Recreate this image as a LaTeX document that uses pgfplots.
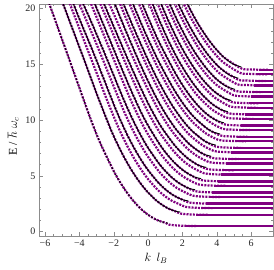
\documentclass[border=0pt]{standalone}
\usepackage{fontspec}
\setmainfont{Liberation Serif}
\usepackage{pgfplots}
\pgfplotsset{compat=1.18}
\definecolor{mpurple}{rgb}{0.5,0,0.5}
\definecolor{framegray}{gray}{0.55}
\pgfplotsset{
 pur/.style={mpurple, line width=2.2pt, dash pattern=on 2pt off 1.2pt, smooth, tension=0.5, no marks},
 plat/.style={mpurple, line width=2.4pt, no marks},
 blk/.style={black, line width=0.9pt, smooth, tension=0.5, no marks},
}
\begin{document}
\begin{tikzpicture}
\begin{axis}[
 scale only axis, width=234pt, height=232pt,
 xmin=-6.35, xmax=7.27, ymin=-0.4, ymax=20.4,
 xtick={-6,-4,-2,0,2,4,6}, xticklabels={−6,−4,−2,0,2,4,6},
 ytick={0,5,10,15,20}, yticklabels={0,5,10,15,20},
 minor x tick num=3, minor y tick num=4,
 tick align=inside, major tick length=4pt, minor tick length=2.2pt,
 axis line style={framegray}, tick style={framegray, line width=0.4pt},
 tick label style={font=\fontsize{10}{10}\selectfont, text=black!85},
 xlabel={$k\;\, l_B$}, ylabel={E / $\hbar\;\omega_c$},
 label style={font=\fontsize{12}{12}\selectfont},
 every axis y label/.append style={at={(ticklabel cs:0.43)}},
]
% ---------- purple, family A ----------
\addplot[pur] coordinates {(-6.400,23.20) (-5.750,20.42) (-5.100,17.63) (-4.400,14.62) (-3.420,10.40) (-2.795,7.973) (-1.948,5.268) (-1.385,3.836) (-0.975,2.972) (-0.658,2.405) (-0.401,2.008) (-0.185,1.718) (0,1.5) (0.309,1.197) (0.566,1.003) (0.793,0.875) (1.006,0.791) (1.225,0.62) (1.725,0.54) (2.225,0.51) (2.825,0.5)};
\addplot[pur] coordinates {(-5.400,22.27) (-4.600,18.99) (-3.599,14.89) (-2.976,12.29) (-2.115,8.951) (-1.490,6.935) (-1.005,5.611) (-0.613,4.685) (-0.283,4.010) (0,3.5) (0.472,2.793) (0.865,2.341) (1.212,2.041) (1.537,1.846) (1.871,1.62) (2.371,1.54) (2.871,1.51) (3.471,1.5)};
\addplot[pur] coordinates {(-5.100,23.40) (-4.065,19.32) (-3.259,16.33) (-2.679,14.07) (-1.867,10.90) (-1.260,8.817) (-0.768,7.362) (-0.355,6.301) (0,5.5) (0.592,4.390) (1.085,3.678) (1.519,3.207) (1.927,2.901) (2.345,2.62) (2.845,2.54) (3.345,2.51) (3.945,2.5)};
\addplot[pur] coordinates {(-4.329,22.27) (-3.418,19.18) (-2.750,16.78) (-2.232,14.86) (-1.472,12.02) (-0.897,10.04) (-0.414,8.592) (0,7.5) (0.691,5.986) (1.266,5.016) (1.774,4.373) (2.250,3.956) (2.738,3.62) (3.238,3.54) (3.738,3.51) (4.338,3.5)};
\addplot[pur] coordinates {(-3.335,21.26) (-2.672,18.82) (-2.142,16.86) (-1.705,15.23) (-1.011,12.72) (-0.466,10.88) (0,9.5) (0.778,7.582) (1.425,6.353) (1.996,5.539) (2.532,5.011) (3.082,4.62) (3.582,4.54) (4.082,4.51) (4.682,4.5)};
\addplot[pur] coordinates {(-3.246,22.79) (-2.567,20.41) (-2.016,18.43) (-1.164,15.39) (-0.520,13.18) (0,11.5) (0.451,10.20) (0.856,9.178) (1.568,7.691) (2.196,6.705) (2.786,6.066) (3.391,5.62) (3.891,5.54) (4.391,5.51) (4.991,5.5)};
\addplot[pur] coordinates {(-2.265,21.64) (-1.755,19.71) (-1.318,18.07) (-0.594,15.47) (-0.007,13.5) (0.488,11.98) (0.928,10.77) (1.328,9.810) (1.699,9.028) (2.380,7.871) (3.019,7.121) (3.674,6.62) (4.174,6.54) (4.674,6.51) (5.274,6.5)};
\addplot[pur] coordinates {(-1.528,20.75) (-1.086,19.14) (-0.700,17.76) (-0.038,15.5) (0.513,13.75) (0.994,12.37) (1.423,11.26) (1.821,10.37) (2.194,9.633) (2.550,9.037) (3.235,8.175) (3.936,7.62) (4.436,7.54) (4.936,7.51) (5.536,7.5)};
\addplot[pur] coordinates {(-1.201,21.61) (-0.785,20.05) (-0.410,18.69) (-0.071,17.5) (0.527,15.53) (1.056,13.97) (1.512,12.72) (1.935,11.70) (2.331,10.88) (2.709,10.20) (3.437,9.230) (4.183,8.62) (4.683,8.54) (5.183,8.51) (5.783,8.5)};
\addplot[pur] coordinates {(-0.444,20.82) (-0.088,19.5) (0.543,17.30) (1.115,15.56) (1.596,14.17) (2.042,13.04) (2.461,12.12) (2.860,11.37) (3.247,10.76) (3.628,10.29) (4.415,9.62) (4.915,9.54) (5.415,9.51) (6.015,9.5)};
\addplot[pur] coordinates {(0,21.5) (0.318,20.21) (0.616,19.07) (1.171,17.16) (1.675,15.62) (2.144,14.38) (2.584,13.36) (3.003,12.53) (3.410,11.87) (3.810,11.34) (4.636,10.62) (5.136,10.54) (5.636,10.51) (6.236,10.5)};
\addplot[pur] coordinates {(0.644,20.85) (0.943,19.74) (1.224,18.76) (1.752,17.08) (2.242,15.72) (2.701,14.61) (3.140,13.70) (3.565,12.97) (3.983,12.40) (4.847,11.62) (5.347,11.54) (5.847,11.51) (6.447,11.5)};
\addplot[pur] coordinates {(0.982,21.42) (1.275,20.35) (1.557,19.39) (1.825,18.53) (2.335,17.05) (2.814,15.85) (3.271,14.87) (3.714,14.07) (4.149,13.45) (5.049,12.62) (5.549,12.54) (6.049,12.51) (6.649,12.5)};
\addplot[pur] coordinates {(1.617,20.91) (1.895,19.98) (2.166,19.15) (2.425,18.39) (2.922,17.09) (3.397,16.03) (3.856,15.18) (4.309,14.51) (5.243,13.62) (5.743,13.54) (6.243,13.51) (6.843,13.5)};
\addplot[pur] coordinates {(2.243,20.54) (2.512,19.73) (2.773,18.99) (3.026,18.33) (3.518,17.20) (3.994,16.28) (4.463,15.56) (5.431,14.62) (5.931,14.54) (6.431,14.51) (7.031,14.5)};
% ---------- purple, family B ----------
\addplot[pur] coordinates {(-5.300,23.40) (-4.450,20.00) (-3.575,16.51) (-2.929,13.95) (-2.451,12.02) (-1.726,9.313) (-1.165,7.534) (-0.710,6.291) (-0.328,5.385) (0,4.7) (0.547,3.751) (1.003,3.143) (1.404,2.740) (1.781,2.479) (2.168,2.22) (2.668,2.14) (3.168,2.11) (3.768,2.1)};
\addplot[pur] coordinates {(-4.815,23.53) (-3.857,19.89) (-3.092,17.14) (-2.520,14.99) (-2.071,13.28) (-1.391,10.74) (-0.847,8.968) (-0.392,7.676) (0,6.7) (0.653,5.347) (1.197,4.481) (1.677,3.906) (2.127,3.534) (2.588,3.22) (3.088,3.14) (3.588,3.11) (4.188,3.1)};
\addplot[pur] coordinates {(-3.827,22.25) (-3.069,19.47) (-2.478,17.24) (-1.999,15.44) (-1.603,13.95) (-0.966,11.64) (-0.446,9.967) (0,8.7) (0.745,6.943) (1.364,5.818) (1.910,5.072) (2.424,4.589) (2.949,4.22) (3.449,4.14) (3.949,4.11) (4.549,4.1)};
\addplot[pur] coordinates {(-3.001,21.20) (-2.385,18.99) (-1.882,17.15) (-1.096,14.32) (-0.495,12.26) (0,10.7) (0.435,9.493) (0.826,8.540) (1.513,7.156) (2.119,6.238) (2.688,5.644) (3.271,5.22) (3.771,5.14) (4.271,5.11) (4.871,5.1)};
\addplot[pur] coordinates {(-2.870,22.54) (-2.243,20.36) (-1.722,18.54) (-1.284,17.00) (-0.569,14.55) (0,12.7) (0.474,11.27) (0.900,10.14) (1.288,9.228) (1.648,8.493) (2.308,7.404) (2.928,6.699) (3.563,6.22) (4.063,6.14) (4.563,6.11) (5.163,6.1)};
\addplot[pur] coordinates {(-1.917,21.46) (-1.439,19.68) (-1.021,18.15) (-0.653,16.84) (-0.023,14.7) (0.507,13.04) (0.968,11.73) (1.385,10.68) (1.773,9.831) (2.136,9.136) (2.483,8.570) (3.150,7.754) (3.834,7.22) (4.334,7.14) (4.834,7.11) (5.434,7.1)};
\addplot[pur] coordinates {(-1.136,20.62) (-0.737,19.13) (-0.378,17.83) (-0.052,16.7) (0.524,14.82) (1.032,13.33) (1.477,12.14) (1.890,11.17) (2.277,10.38) (2.647,9.736) (3.358,8.808) (4.086,8.22) (4.586,8.14) (5.086,8.11) (5.686,8.1)};
\addplot[pur] coordinates {(-0.793,21.42) (-0.414,19.97) (-0.070,18.7) (0.542,16.59) (1.092,14.92) (1.563,13.59) (2.000,12.51) (2.410,11.62) (2.801,10.90) (3.553,9.863) (4.324,9.22) (4.824,9.14) (5.324,9.11) (5.924,9.1)};
\addplot[pur] coordinates {(0,20.7) (0.312,19.46) (0.605,18.37) (1.149,16.52) (1.644,15.04) (2.104,13.84) (2.535,12.87) (2.947,12.07) (3.738,10.92) (4.549,10.22) (5.049,10.14) (5.549,10.11) (6.149,10.1)};
\addplot[pur] coordinates {(0.327,21.34) (0.633,20.14) (0.926,19.07) (1.203,18.12) (1.722,16.49) (2.203,15.18) (2.655,14.11) (3.086,13.23) (3.504,12.53) (3.915,11.97) (4.764,11.22) (5.264,11.14) (5.764,11.11) (6.364,11.1)};
\addplot[pur] coordinates {(0.966,20.75) (1.255,19.71) (1.532,18.78) (1.796,17.95) (2.298,16.52) (2.769,15.35) (3.219,14.40) (3.655,13.63) (4.084,13.03) (4.969,12.22) (5.469,12.14) (5.969,12.11) (6.569,12.1)};
\addplot[pur] coordinates {(1.304,21.31) (1.593,20.30) (1.867,19.40) (2.134,18.59) (2.390,17.86) (2.879,16.59) (3.347,15.57) (3.800,14.74) (4.246,14.08) (5.166,13.22) (5.666,13.14) (6.166,13.11) (6.766,13.1)};
\addplot[pur] coordinates {(1.936,20.86) (2.212,19.98) (2.477,19.19) (2.985,17.84) (3.470,16.73) (3.940,15.84) (4.402,15.14) (5.356,14.22) (5.856,14.14) (6.356,14.11) (6.956,14.1)};
% ---------- plateaus ----------
\addplot[plat] coordinates {(2.225,0.5) (7.5,0.5)};
\addplot[plat] coordinates {(2.871,1.5) (7.5,1.5)};
\addplot[plat] coordinates {(3.345,2.5) (7.5,2.5)};
\addplot[plat] coordinates {(3.738,3.5) (7.5,3.5)};
\addplot[plat] coordinates {(4.082,4.5) (7.5,4.5)};
\addplot[plat] coordinates {(4.391,5.5) (7.5,5.5)};
\addplot[plat] coordinates {(4.674,6.5) (7.5,6.5)};
\addplot[plat] coordinates {(4.936,7.5) (7.5,7.5)};
\addplot[plat] coordinates {(5.183,8.5) (7.5,8.5)};
\addplot[plat] coordinates {(5.415,9.5) (7.5,9.5)};
\addplot[plat] coordinates {(5.636,10.5) (7.5,10.5)};
\addplot[plat] coordinates {(5.847,11.5) (7.5,11.5)};
\addplot[plat] coordinates {(6.049,12.5) (7.5,12.5)};
\addplot[plat] coordinates {(6.243,13.5) (7.5,13.5)};
\addplot[plat] coordinates {(6.431,14.5) (7.5,14.5)};
\addplot[plat] coordinates {(3.168,2.1) (7.5,2.1)};
\addplot[plat] coordinates {(3.588,3.1) (7.5,3.1)};
\addplot[plat] coordinates {(3.949,4.1) (7.5,4.1)};
\addplot[plat] coordinates {(4.271,5.1) (7.5,5.1)};
\addplot[plat] coordinates {(4.563,6.1) (7.5,6.1)};
\addplot[plat] coordinates {(4.834,7.1) (7.5,7.1)};
\addplot[plat] coordinates {(5.086,8.1) (7.5,8.1)};
\addplot[plat] coordinates {(5.324,9.1) (7.5,9.1)};
\addplot[plat] coordinates {(5.549,10.1) (7.5,10.1)};
\addplot[plat] coordinates {(5.764,11.1) (7.5,11.1)};
\addplot[plat] coordinates {(5.969,12.1) (7.5,12.1)};
\addplot[plat] coordinates {(6.166,13.1) (7.5,13.1)};
\addplot[plat] coordinates {(6.356,14.1) (7.5,14.1)};
% ---------- black semiclassical ----------
\addplot[blk, dash pattern=on 2pt off 2pt] coordinates {(-6.400,23.20) (-5.750,20.42) (-5.100,17.63) (-4.400,14.62) (-3.420,10.40) (-2.795,7.973) (-1.948,5.268) (-1.385,3.836) (-0.975,2.972) (-0.658,2.405) (-0.401,2.008) (-0.185,1.718) (0,1.5) (0.309,1.197) (0.566,1.003) (0.793,0.875) (1.006,0.791) (1.113,0.764) (1.225,0.75)};
\addplot[blk] coordinates {(-5.400,22.27) (-4.600,18.99) (-3.599,14.89) (-2.976,12.29) (-2.115,8.951) (-1.490,6.935) (-1.005,5.611) (-0.613,4.685) (-0.283,4.010) (0,3.5) (0.472,2.793) (0.865,2.341) (1.212,2.041) (1.537,1.846) (1.700,1.783) (1.871,1.75)};
\addplot[blk] coordinates {(-5.100,23.40) (-4.065,19.32) (-3.259,16.33) (-2.679,14.07) (-1.867,10.90) (-1.260,8.817) (-0.768,7.362) (-0.355,6.301) (0,5.5) (0.592,4.390) (1.085,3.678) (1.519,3.207) (1.927,2.901) (2.131,2.802) (2.345,2.75)};
\addplot[blk] coordinates {(-4.329,22.27) (-3.418,19.18) (-2.750,16.78) (-2.232,14.86) (-1.472,12.02) (-0.897,10.04) (-0.414,8.592) (0,7.5) (0.691,5.986) (1.266,5.016) (1.774,4.373) (2.250,3.956) (2.488,3.821) (2.738,3.75)};
\addplot[blk] coordinates {(-3.335,21.26) (-2.672,18.82) (-2.142,16.86) (-1.705,15.23) (-1.011,12.72) (-0.466,10.88) (0,9.5) (0.778,7.582) (1.425,6.353) (1.996,5.539) (2.532,5.011) (2.801,4.840) (3.082,4.75)};
\addplot[blk] coordinates {(-3.246,22.79) (-2.567,20.41) (-2.016,18.43) (-1.164,15.39) (-0.520,13.18) (0,11.5) (0.451,10.20) (0.856,9.178) (1.568,7.691) (2.196,6.705) (2.786,6.066) (3.081,5.859) (3.391,5.75)};
\addplot[blk] coordinates {(-2.265,21.64) (-1.755,19.71) (-1.318,18.07) (-0.594,15.47) (-0.007,13.5) (0.488,11.98) (0.928,10.77) (1.328,9.810) (1.699,9.028) (2.380,7.871) (3.019,7.121) (3.339,6.878) (3.674,6.75)};
\addplot[blk] coordinates {(-1.528,20.75) (-1.086,19.14) (-0.700,17.76) (-0.038,15.5) (0.513,13.75) (0.994,12.37) (1.423,11.26) (1.821,10.37) (2.194,9.633) (2.550,9.037) (3.235,8.175) (3.577,7.897) (3.936,7.75)};
\addplot[blk] coordinates {(-1.201,21.61) (-0.785,20.05) (-0.410,18.69) (-0.071,17.5) (0.527,15.53) (1.056,13.97) (1.512,12.72) (1.935,11.70) (2.331,10.88) (2.709,10.20) (3.437,9.230) (3.801,8.916) (4.183,8.75)};
\addplot[blk] coordinates {(-0.444,20.82) (-0.088,19.5) (0.543,17.30) (1.115,15.56) (1.596,14.17) (2.042,13.04) (2.461,12.12) (2.860,11.37) (3.247,10.76) (3.628,10.29) (4.012,9.935) (4.415,9.75)};
\addplot[blk] coordinates {(0,21.5) (0.318,20.21) (0.616,19.07) (1.171,17.16) (1.675,15.62) (2.144,14.38) (2.584,13.36) (3.003,12.53) (3.410,11.87) (3.810,11.34) (4.213,10.95) (4.636,10.75)};
\addplot[blk] coordinates {(0.644,20.85) (0.943,19.74) (1.224,18.76) (1.752,17.08) (2.242,15.72) (2.701,14.61) (3.140,13.70) (3.565,12.97) (3.983,12.40) (4.405,11.97) (4.847,11.75)};
\addplot[blk] coordinates {(0.982,21.42) (1.275,20.35) (1.557,19.39) (1.825,18.53) (2.335,17.05) (2.814,15.85) (3.271,14.87) (3.714,14.07) (4.149,13.45) (4.588,12.99) (5.049,12.75)};
\addplot[blk] coordinates {(1.617,20.91) (1.895,19.98) (2.166,19.15) (2.425,18.39) (2.922,17.09) (3.397,16.03) (3.856,15.18) (4.309,14.51) (4.765,14.01) (5.243,13.75)};
\addplot[blk] coordinates {(2.243,20.54) (2.512,19.73) (2.773,18.99) (3.026,18.33) (3.518,17.20) (3.994,16.28) (4.463,15.56) (4.935,15.03) (5.431,14.75)};
\end{axis}
\path (current axis.south west) +(-39pt,-33pt) (current axis.north east) +(1pt,4pt);
\end{tikzpicture}
\end{document}
